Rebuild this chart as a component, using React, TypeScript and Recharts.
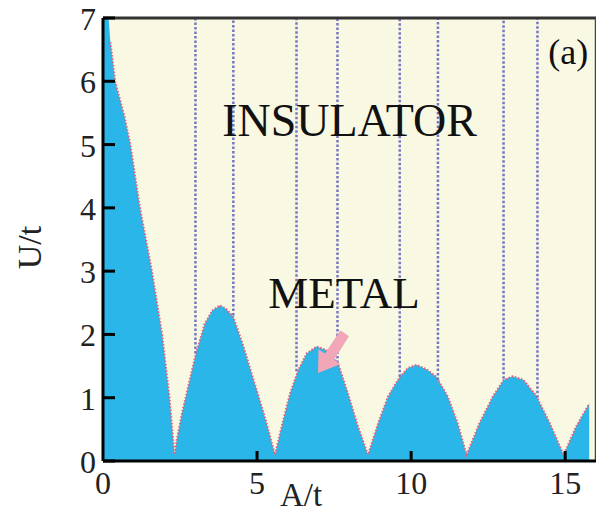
import {
  ComposedChart,
  Area,
  Line,
  XAxis,
  YAxis,
  CartesianGrid,
  ReferenceLine,
  ReferenceDot,
} from "recharts"

// boundary U_c/t, against A/t
const aVals = [
  0, 0.18, 0.24, 0.4, 0.7, 0.89, 1.2, 1.59, 1.92, 2.16, 2.32,
  2.4, 2.56, 2.99, 3.3, 3.55, 3.8, 4.0, 4.23, 4.56, 4.99, 5.31, 5.58,
  5.85, 6.07, 6.34, 6.61, 6.93, 7.26, 7.63, 7.95, 8.28, 8.6,
  8.93, 9.25, 9.63, 9.9, 10.17, 10.5, 10.82, 11.19, 11.51, 11.8,
  12.22, 12.65, 13.0, 13.3, 13.65, 14.05, 14.48, 14.95, 15.35, 15.78,
]
const ucVals = [
  7.6, 7.0, 6.62, 5.99, 5.44, 5.0, 4.0, 3.0, 2.0, 1.0, 0.1,
  0.35, 0.75, 1.65, 2.17, 2.38, 2.46, 2.4, 2.28, 1.81, 1.12, 0.6, 0.1,
  0.65, 1.07, 1.44, 1.7, 1.81, 1.75, 1.54, 1.07, 0.54, 0.1,
  0.6, 1.02, 1.33, 1.47, 1.52, 1.45, 1.33, 1.02, 0.6, 0.1,
  0.6, 1.02, 1.28, 1.34, 1.28, 1.04, 0.62, 0.1, 0.54, 0.91,
]
const edgeFrom = 0.24

// dotted verticals: x position and where they meet the boundary
const vlineA = [3.0, 4.23, 6.28, 7.61, 9.63, 10.87, 13.0, 14.1]
const vlineFrom = [1.7, 2.3, 1.42, 1.55, 1.33, 1.28, 1.3, 1.0]

const xTicks = [0, 5, 10, 15]
const yTicks = [0, 1, 2, 3, 4, 5, 6, 7]

const data = aVals.map((a, i) => ({
  a,
  u: ucVals[i],
  edge: a >= edgeFrom ? ucVals[i] : null,
}))

const FONT = "Liberation Serif"
const BLUE = "#2bb6ea"
const CREAM = "#f9f8e3"

const YTick = ({ x, y, payload }: any) => (
  <g>
    <line x1={x + 7} x2={x + 19} y1={y} y2={y} stroke="#000" strokeWidth={3} />
    <text x={x} y={y + 12} textAnchor="end" fontSize={32} fontFamily={FONT} fill="#222">
      {payload.value}
    </text>
  </g>
)

const XTick = ({ x, y, payload }: any) => (
  <g>
    {payload.value !== 0 && (
      <line x1={x} x2={x} y1={y - 7} y2={y - 17} stroke="#000" strokeWidth={3} />
    )}
    <text x={x} y={y + 26} textAnchor="middle" fontSize={32} fontFamily={FONT} fill="#222">
      {payload.value}
    </text>
  </g>
)

const textShape = (value: string, size: number) => (p: any) => (
  <text x={p.cx} y={p.cy} textAnchor="middle" fontSize={size} fontFamily={FONT} fill="#111">
    {value}
  </text>
)

const arrowShape = (p: any) => {
  const pts = [
    [0, 0], [22.5, -9.0], [16.1, -13.2], [30.9, -36.9],
    [22.3, -42.7], [6.9, -19.6], [0.4, -23.8],
  ]
  return (
    <polygon
      points={pts.map(([dx, dy]) => `${p.cx + dx},${p.cy + dy}`).join(" ")}
      fill="#f2a7b8"
    />
  )
}

export default function App() {
  return (
    <div style={{ width: 590, height: 508, marginTop: -8 }}>
      <ComposedChart
        width={590}
        height={514}
        data={data}
        margin={{ top: 18, right: 2, left: 0, bottom: 0 }}
      >
        <CartesianGrid fill={CREAM} horizontal={false} vertical={false} />
        <XAxis
          dataKey="a"
          type="number"
          domain={[0, 16]}
          ticks={xTicks}
          height={53}
          tickSize={0}
          tickMargin={7}
          axisLine={{ stroke: "#000", strokeWidth: 3 }}
          tick={<XTick />}
          label={(p: any) => (
            <text
              x={(p.viewBox?.x ?? 95) + 198}
              y={(p.viewBox?.y ?? 461) + 45}
              textAnchor="middle"
              fontSize={33}
              fontFamily={FONT}
              fill="#222"
            >
              A/t
            </text>
          )}
        />
        <YAxis
          type="number"
          domain={[0, 7]}
          ticks={yTicks}
          allowDataOverflow
          width={95}
          tickSize={0}
          tickMargin={7}
          axisLine={{ stroke: "#000", strokeWidth: 3 }}
          tick={<YTick />}
          label={(p: any) => {
            const cx = 33
            const cy = (p.viewBox?.y ?? 18) + (p.viewBox?.height ?? 443) / 2 + 8
            return (
              <text
                x={cx}
                y={cy}
                transform={`rotate(-90 ${cx} ${cy})`}
                textAnchor="middle"
                fontSize={34}
                fontFamily={FONT}
                fill="#222"
              >
                U/t
              </text>
            )
          }}
        />
        <Area
          dataKey="u"
          type="linear"
          fill={BLUE}
          fillOpacity={1}
          stroke="none"
          isAnimationActive={false}
        />
        <Line
          dataKey="edge"
          type="linear"
          stroke="#e2607c"
          strokeWidth={2}
          strokeDasharray="1.5 1.8"
          dot={false}
          isAnimationActive={false}
        />
        {vlineA.map((a, i) => (
          <ReferenceLine
            key={a}
            segment={[{ x: a, y: vlineFrom[i] }, { x: a, y: 7 }]}
            stroke="#7676c4"
            strokeWidth={2.5}
            strokeDasharray="2.5 2"
          />
        ))}
        <ReferenceLine y={7} stroke="#333" strokeWidth={3} />
        <ReferenceLine x={16} stroke="#444" strokeWidth={2.5} />
        <ReferenceDot x={8.0} y={5.13} r={0} shape={textShape("INSULATOR", 46)} />
        <ReferenceDot x={7.82} y={2.42} r={0} shape={textShape("METAL", 45)} />
        <ReferenceDot x={15.1} y={6.27} r={0} shape={textShape("(a)", 36)} />
        <ReferenceDot x={6.98} y={1.39} r={0} shape={arrowShape} />
      </ComposedChart>
    </div>
  )
}
